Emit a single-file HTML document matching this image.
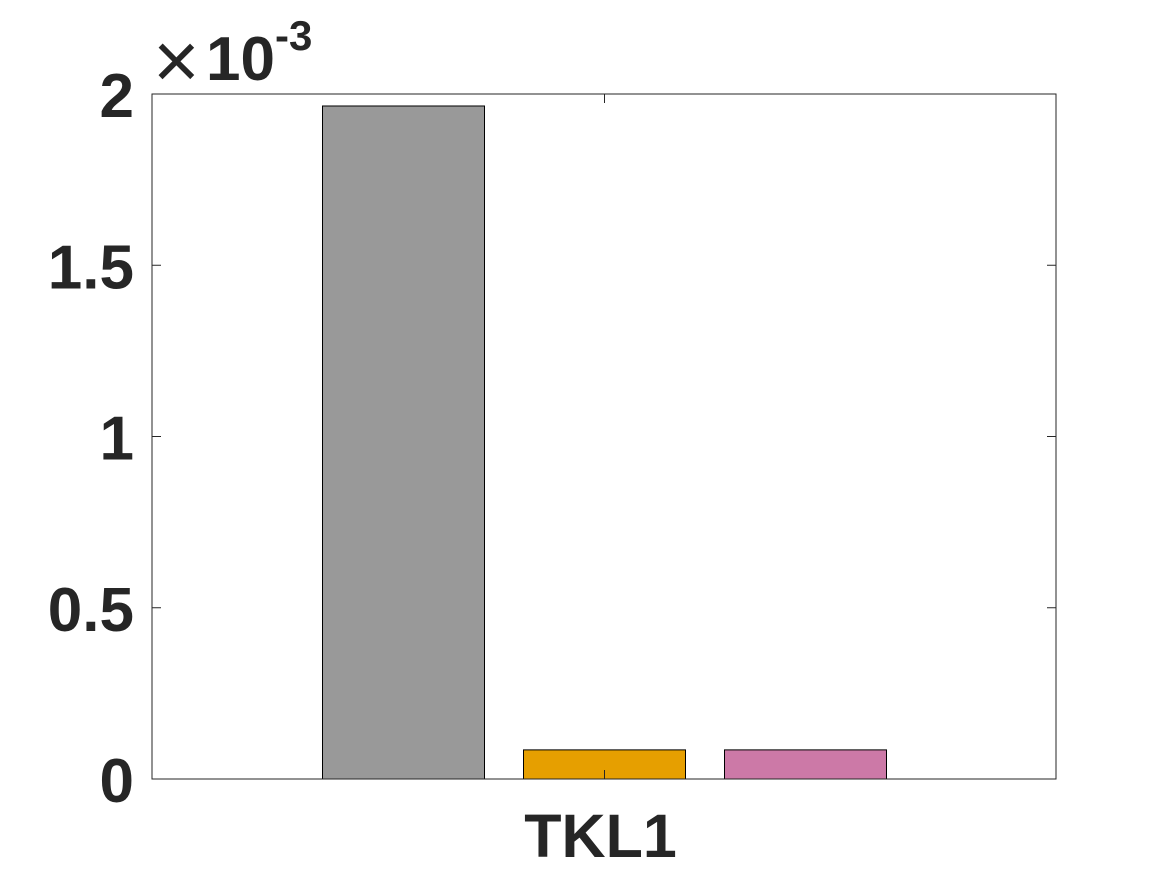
<!DOCTYPE html>
<html><head><meta charset="utf-8"><style>
body{margin:0;background:#fff;}
svg{display:block;font-family:"Liberation Sans",Arial,sans-serif;}
</style></head><body>
<svg id="chart" width="1167" height="875" viewBox="0 0 1167 875">
<rect x="0" y="0" width="1167" height="875" fill="#fff"/>
<g id="bars"></g>
<g id="axes"></g>
</svg>
<script>
const categories = ["TKL1"];
const seriesNames = ["series-1","series-2","series-3"];
const seriesValues = [1.965, 0.085, 0.085];
const seriesColors = ["#999999","#e69f00","#cc79a7"];
const yTicks = [0, 0.5, 1, 1.5, 2];
const yTickLabels = ["0","0.5","1","1.5","2"];

const L=152,R=1056,T=94,B=779,yMax=2;
const NS="http://www.w3.org/2000/svg";
const y = v => B - v/yMax*(B-T);
const groupCenter = 604.5, barW = 162, barStep = 201;
const bx = i => groupCenter + (i-1)*barStep - barW/2;
function mk(tag, attrs, parent){const e=document.createElementNS(NS,tag);for(const k in attrs)e.setAttribute(k,attrs[k]);parent.appendChild(e);return e;}
const bars=document.getElementById('bars'), axes=document.getElementById('axes');
seriesValues.forEach((v,i)=>{
  const r=mk('rect',{x:bx(i),y:y(v),width:barW,height:B-y(v),fill:seriesColors[i],stroke:'#000','stroke-width':1},bars);
  
  
});
const box=mk('rect',{x:L,y:T,width:R-L,height:B-T,fill:'none',stroke:'#262626','stroke-width':1},axes);


yTicks.forEach((t,i)=>{
  const yy=y(t);
  mk('line',{x1:L,x2:L+9,y1:yy,y2:yy,stroke:'#262626'},axes);
  mk('line',{x1:R,x2:R-9,y1:yy,y2:yy,stroke:'#262626'},axes);
  const tx=mk('text',{x:134,y:yy+23,'text-anchor':'end','font-size':62,'font-weight':'bold',fill:'#262626'},axes);
  tx.textContent=yTickLabels[i];
  
  
});
mk('line',{x1:groupCenter,x2:groupCenter,y1:B,y2:B-9,stroke:'#262626'},axes);
mk('line',{x1:groupCenter,x2:groupCenter,y1:T,y2:T+9,stroke:'#262626'},axes);
const xl=mk('text',{x:groupCenter-4,y:857,'text-anchor':'middle','font-size':61,'font-weight':'bold',fill:'#262626'},axes);
xl.textContent=categories[0];


const ex=mk('text',{x:153,y:80,'font-size':62,fill:'#262626'},axes);


ex.innerHTML='<tspan font-weight="normal" font-size="80" y="88">×</tspan><tspan font-weight="bold" x="206" y="80">10</tspan><tspan font-weight="bold" font-size="42" dy="-30">-3</tspan>';
</script>
</body></html>
